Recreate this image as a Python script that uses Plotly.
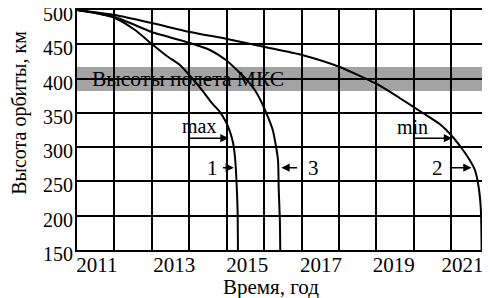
import plotly.graph_objects as go

# ---- data ----
c1_year = [2011.0, 2011.51, 2012.01, 2012.55, 2013.0, 2013.40, 2013.75, 2014.07, 2014.34, 2014.60,
           2014.82, 2014.98, 2015.09, 2015.17, 2015.22, 2015.26, 2015.29, 2015.30]
c1_km = [500, 495.6, 488.3, 470.8, 450.4, 432.9, 419.8, 400.8, 383.3, 364.4,
         351.2, 336.7, 322.1, 306.0, 285.6, 252.1, 208.3, 150]

c3_year = [2011.0, 2012.01, 2013.0, 2014.02, 2014.55, 2014.98, 2015.30, 2015.54, 2015.75, 2015.94,
           2016.10, 2016.23, 2016.31, 2016.37, 2016.39, 2016.42, 2016.43]
c3_km = [500, 489.8, 467.9, 451.9, 441.7, 427.1, 411.0, 397.9, 383.3, 364.4,
         344.0, 325.0, 303.1, 281.3, 237.5, 193.7, 150]

c2_year = [2011.0, 2012.01, 2013.0, 2014.02, 2015.01, 2016.02, 2017.01, 2018.02, 2019.01, 2019.62,
           2020.24, 2020.69, 2021.04, 2021.31, 2021.49, 2021.63, 2021.73, 2021.79, 2021.81]
c2_km = [500, 492.7, 481.0, 467.9, 457.7, 446.0, 434.4, 416.9, 392.1, 371.7,
         349.8, 333.7, 314.8, 295.8, 281.3, 266.7, 241.9, 208.3, 150]

iss_band = [382, 417]
tick_pos = [2011.53, 2013.6, 2015.55, 2017.52, 2019.46, 2021.3]
tick_text = ["2011", "2013", "2015", "2017", "2019", "2021"]
grid_years = list(range(2012, 2022))

# arrows: (text, text_x, text_y, tail_x, head_x, arrow_y)
arrow_labels = [
    ("max", 2014.26, 331, 2013.97, 2015.05, 313),
    ("min", 2019.97, 330, 2019.97, 2021.02, 313),
    ("1", 2014.63, 269, 2014.86, 2015.19, 270),
    ("3", 2017.33, 269, 2016.92, 2016.46, 270),
    ("2", 2020.64, 269, 2020.92, 2021.54, 270),
]

FONT = "Liberation Serif"

fig = go.Figure()
for xs, ys in [(c1_year, c1_km), (c3_year, c3_km), (c2_year, c2_km)]:
    fig.add_trace(go.Scatter(x=xs, y=ys, mode="lines",
                             line=dict(color="black", width=2, shape="spline", smoothing=0.6),
                             showlegend=False, hoverinfo="skip"))

fig.add_shape(type="rect", xref="paper", yref="y", x0=0, x1=1, y0=iss_band[0], y1=iss_band[1],
              fillcolor="#a3a3a3", line=dict(width=0), layer="below")

fig.add_annotation(x=0.033, xref="paper", y=399, yref="y", text="Высоты полета МКС",
                   showarrow=False, xanchor="left", yanchor="middle",
                   font=dict(family=FONT, size=21.5, color="black"))

for txt, tx, ty, ax0, hx, ay0 in arrow_labels:
    fig.add_annotation(x=hx, y=ay0, ax=ax0, ay=ay0, xref="x", yref="y", axref="x", ayref="y",
                       text="", showarrow=True, arrowhead=2, arrowsize=1.1, arrowwidth=1.5,
                       arrowcolor="black")
    fig.add_annotation(x=tx, y=ty, xref="x", yref="y", text=txt, showarrow=False,
                       font=dict(family=FONT, size=20 if len(txt) > 1 else 21, color="black"))

fig.add_annotation(x=-0.141, xref="paper", y=0.571, yref="paper", text="Высота орбиты, км",
                   textangle=-90, showarrow=False, xanchor="center", yanchor="middle",
                   font=dict(family=FONT, size=20, color="black"))
fig.add_annotation(x=0.48, xref="paper", y=-0.155, yref="paper", text="Время, год",
                   showarrow=False, xanchor="center", yanchor="middle",
                   font=dict(family=FONT, size=21, color="black"))

fig.update_xaxes(range=[2011, 2021.82], tickvals=tick_pos, ticktext=tick_text, showgrid=False,
                 ticks="", tickfont=dict(family=FONT, size=21, color="black"), automargin=False,
                 showline=True, linecolor="black", linewidth=2, mirror=True, zeroline=False,
                 ticklabeloverflow="allow", ticklabelstandoff=-5,
                 minor=dict(tickvals=grid_years, showgrid=True, gridcolor="black", gridwidth=1.5, ticks=""))
fig.update_yaxes(range=[150, 500], dtick=50, tick0=150, showgrid=True, gridcolor="black", gridwidth=1.5,
                 ticks="", tickfont=dict(family=FONT, size=20, color="black"), automargin=False,
                 ticklabeloverflow="allow", ticklabelstandoff=-2, ticklabelshift=4,
                 showline=True, linecolor="black", linewidth=2, mirror=True, zeroline=False)

# the page adds an 8px body margin, so the figure is 8px smaller and shifted
fig.update_layout(width=482, height=290, margin=dict(l=69, r=8, t=2, b=48),
                  plot_bgcolor="white", paper_bgcolor="white", showlegend=False)

fig.write_html("out.html")
